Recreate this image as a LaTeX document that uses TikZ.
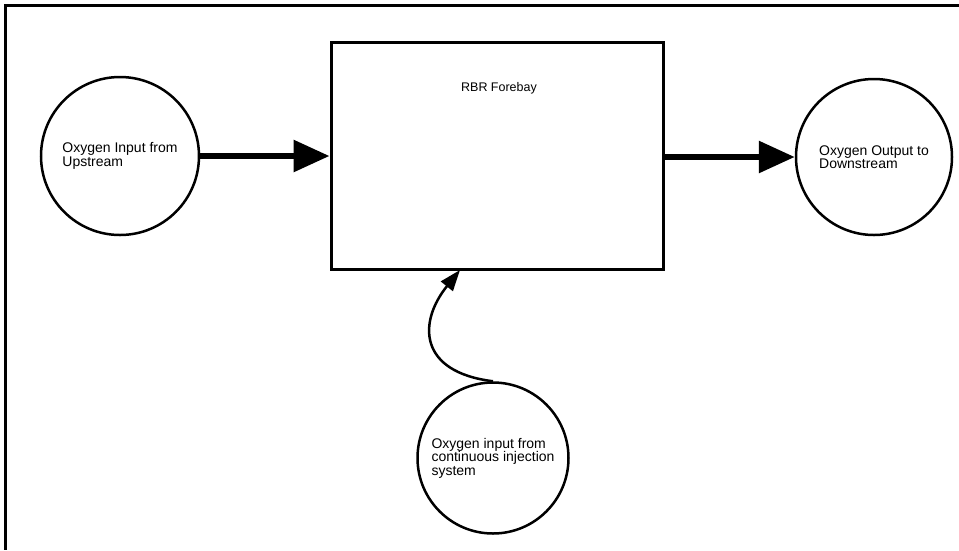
\documentclass[tikz,border=0pt]{standalone}
\usepackage{fontspec}
\setmainfont{Liberation Sans}
\usetikzlibrary{arrows.meta}
\begin{document}
\begin{tikzpicture}[x=1pt,y=-1pt,
  bubble/.style={circle,draw,line width=2.5pt,inner sep=0pt,align=left,
    font=\fontsize{14}{13.5}\selectfont},
  bigbox/.style={draw,line width=3pt,minimum width=332pt,minimum height=227pt,inner sep=0pt},
  fatarrow/.style={line width=6pt,-{Triangle[length=36pt,width=31pt]}},
  thinarrow/.style={line width=2.5pt,-{Triangle[length=21pt,width=15pt]}},
  frameline/.style={line width=3pt}]
\useasboundingbox (0,0) rectangle (959,550);
% frame
\coordinate (ftl) at (5,5);
\coordinate (ftr) at (959,5);
\coordinate (fbl) at (5,550);
\draw[frameline] (ftr) -- (ftl) -- (fbl);
% main box
\node[bigbox] (box) at (497,155.5) {};
\node[font=\fontsize{12.5}{13}\selectfont] (lbl) at (499,88) {RBR Forebay};
% circles
\node[bubble,minimum size=158pt] (up) at (120,156) {Oxygen Input from\\Upstream};
\node[bubble,minimum size=156pt] (dn) at (874,157) {Oxygen Output to\\Downstream};
\node[bubble,minimum size=151pt] (inj) at (493,458) {Oxygen input from\\continuous injection\\system};
% arrows
\draw[fatarrow] (up.east) -- (up.east -| box.west);
\draw[fatarrow] (box.east |- dn.west) -- (dn.west);
\coordinate (tip) at (460,270);
\draw[thinarrow] (inj.north) .. controls (418,372) and (418,322) .. (tip);
\end{tikzpicture}
\end{document}
